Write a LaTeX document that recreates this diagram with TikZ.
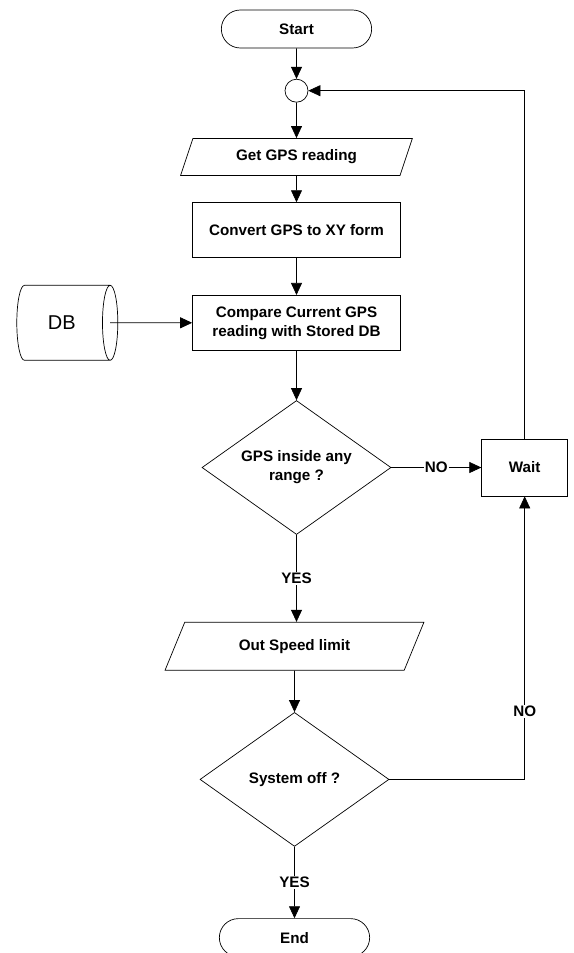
\documentclass[tikz,border=0pt]{standalone}
\usepackage{fontspec}
\setmainfont{Liberation Sans}
\usetikzlibrary{shapes.geometric, shapes.misc, arrows.meta, positioning, calc}

\begin{document}
\begin{tikzpicture}[line width=0.7pt,
    node distance=30pt,
    txt/.style={font=\fontsize{15.2}{19}\selectfont\bfseries, align=center},
    term/.style={txt, draw, rounded rectangle, minimum width=157pt, minimum height=38pt},
    junc/.style={draw, circle, minimum size=23pt, inner sep=0pt},
    io/.style={txt, draw, trapezium, trapezium stretches=true},
    proc/.style={txt, draw, minimum width=208pt, minimum height=55pt},
    decision/.style={txt, draw, diamond, aspect=1.4, inner sep=0pt, minimum width=189pt, minimum height=134pt},
    store/.style={draw, cylinder, aspect=0.75, minimum width=75pt, minimum height=101pt, font=\fontsize{20}{24}\selectfont},
    arrow/.style={draw, -{Triangle[length=12pt,width=11pt]}},
    lbl/.style={txt, fill=white, inner sep=1pt}
]
    \useasboundingbox (0,0) rectangle (573pt,-953pt);

    % Nodes
    \node[term] (start) at (296.5pt,-29pt) {Start};
    \node[junc, below=30.5pt of start] (junc) {};
    \node[io, trapezium left angle=70, trapezium right angle=110, minimum width=232pt, minimum height=37pt, below=35.5pt of junc] (gps) {Get GPS reading};
    \node[proc, below=26.5pt of gps] (convert) {Convert GPS to XY form};
    \node[proc, below=37pt of convert] (compare) {Compare Current GPS\\reading with Stored DB};
    \node[store, left=74pt of compare] (db) {DB};
    \node[decision, below=49.5pt of compare] (dec1) {GPS inside any\\range ?};
    \node[proc, minimum width=86pt, minimum height=57pt, right=90pt of dec1] (wait) {Wait};
    \node[io, trapezium left angle=63, trapezium right angle=117, minimum width=259pt, minimum height=48pt, below=87pt of dec1, xshift=-2pt] (speed) {Out Speed limit};
    \node[decision, below=41.5pt of speed] (dec2) {System off ?};
    \node[term, below=71.5pt of dec2] (stop) {End};

    % Connections
    \draw[arrow] (start) -- (junc);
    \draw[arrow] (junc) -- (gps);
    \draw[arrow] (gps) -- (convert);
    \draw[arrow] (convert) -- (compare);
    \draw[arrow] ($(db.before top)!0.5!(db.after top)$) -- (compare.west);
    \draw[arrow] (compare) -- (dec1);
    \draw[arrow] (dec1.east) -- node[lbl] {NO} (wait.west);
    \draw[arrow] (dec1.south) -- node[lbl] {YES} (dec1.south |- speed.north);
    \draw[arrow] (speed) -- (dec2);
    \draw[arrow] (dec2) -- node[lbl] {YES} (stop);
    \draw[arrow] (dec2.east) -| node[lbl, pos=0.62] {NO} (wait.south);
    \draw[arrow] (wait.north) |- (junc.east);
\end{tikzpicture}
\end{document}
